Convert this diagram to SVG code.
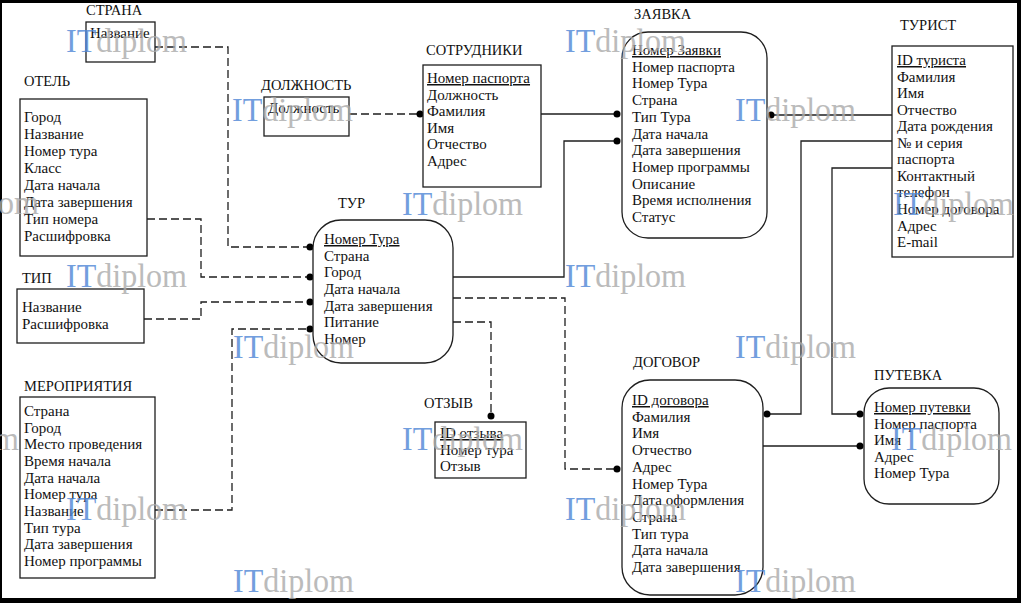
<svg xmlns="http://www.w3.org/2000/svg" width="1021" height="603" viewBox="0 0 1021 603">
<style>
.box{fill:#fff;stroke:#1e1e1e;stroke-width:1.3}
.t{font-family:"Liberation Serif","Times New Roman",serif;font-size:15px;fill:#111}
.lbl{font-family:"Liberation Serif","Times New Roman",serif;font-size:14.5px;fill:#111}
.u{text-decoration:underline}
.c{fill:none;stroke:#1e1e1e;stroke-width:1.3}
.d{stroke-dasharray:8 4}
.dot{fill:#000}
.wm{font-family:"Liberation Serif","Times New Roman",serif;font-size:34px;opacity:0.8}
.wi{fill:#4f87d6}
.wd{fill:#ababab}
</style>
<rect x="0" y="0" width="1021" height="603" fill="#000"/>
<rect x="2" y="3" width="1015" height="595" fill="#fff"/>

<g id="connectors">
  <polyline class="c d" points="155,47 228,47 228,247 310,247"/>
  <polyline class="c d" points="349,114 420,114"/>
  <polyline class="c d" points="147,219 201,219 201,277 310,277"/>
  <polyline class="c d" points="144,319 201,319 201,302 310,302"/>
  <polyline class="c d" points="155,510 232,510 232,329 310,329"/>
  <polyline class="c" points="541,114 617,114"/>
  <polyline class="c" points="453,277 564,277 564,141 617,141"/>
  <polyline class="c" points="892,115 771,115"/>
  <polyline class="c" points="892,141 801,141 801,414 767,414"/>
  <polyline class="c" points="892,168 832,168 832,414 860,414"/>
  <polyline class="c" points="763,446 860,446"/>
  <polyline class="c d" points="453,298 565,298 565,469 617,469"/>
  <polyline class="c d" points="453,322 491,322 491,416"/>
  <circle class="dot" cx="310" cy="247" r="3.5"/>
  <circle class="dot" cx="420" cy="114" r="3.5"/>
  <circle class="dot" cx="310" cy="277" r="3.5"/>
  <circle class="dot" cx="310" cy="302" r="3.5"/>
  <circle class="dot" cx="310" cy="329" r="3.5"/>
  <circle class="dot" cx="617" cy="114" r="3.5"/>
  <circle class="dot" cx="617" cy="141" r="3.5"/>
  <circle class="dot" cx="771" cy="115" r="3.5"/>
  <circle class="dot" cx="767" cy="414" r="3.5"/>
  <circle class="dot" cx="860" cy="414" r="3.5"/>
  <circle class="dot" cx="860" cy="446" r="3.5"/>
  <circle class="dot" cx="617" cy="469" r="3.5"/>
  <circle class="dot" cx="491" cy="416" r="3.5"/>
</g>

<g id="strana">
  <text class="lbl" x="86" y="15">СТРАНА</text>
  <rect class="box" x="86" y="22" width="69" height="40"/>
  <text class="t" x="90" y="38">Название</text>
</g>

<g id="otel">
  <text class="lbl" x="24" y="86">ОТЕЛЬ</text>
  <rect class="box" x="20" y="99" width="127" height="157"/>
  <text class="t">
    <tspan x="24" y="122">Город</tspan>
    <tspan x="24" y="139">Название</tspan>
    <tspan x="24" y="156">Номер тура</tspan>
    <tspan x="24" y="173">Класс</tspan>
    <tspan x="24" y="190">Дата начала</tspan>
    <tspan x="24" y="207">Дата завершения</tspan>
    <tspan x="24" y="224">Тип номера</tspan>
    <tspan x="24" y="241">Расшифровка</tspan>
  </text>
</g>

<g id="dolzhnost">
  <text class="lbl" x="261" y="90">ДОЛЖНОСТЬ</text>
  <rect class="box" x="264" y="97" width="85" height="39"/>
  <text class="t" x="268" y="113">Должность</text>
</g>

<g id="sotrudniki">
  <text class="lbl" x="426" y="55">СОТРУДНИКИ</text>
  <rect class="box" x="423" y="65" width="118" height="122"/>
  <text class="t">
    <tspan class="u" x="427" y="83">Номер паспорта</tspan>
    <tspan x="427" y="99.6">Должность</tspan>
    <tspan x="427" y="116.2">Фамилия</tspan>
    <tspan x="427" y="132.8">Имя</tspan>
    <tspan x="427" y="149.4">Отчество</tspan>
    <tspan x="427" y="166">Адрес</tspan>
  </text>
</g>

<g id="zayavka">
  <text class="lbl" x="634" y="19">ЗАЯВКА</text>
  <rect class="box" x="622" y="32" width="145" height="206" rx="26"/>
  <text class="t">
    <tspan class="u" x="632" y="55">Номер Заявки</tspan>
    <tspan x="632" y="71.7">Номер паспорта</tspan>
    <tspan x="632" y="88.4">Номер Тура</tspan>
    <tspan x="632" y="105.1">Страна</tspan>
    <tspan x="632" y="121.8">Тип Тура</tspan>
    <tspan x="632" y="138.5">Дата начала</tspan>
    <tspan x="632" y="155.2">Дата завершения</tspan>
    <tspan x="632" y="171.9">Номер программы</tspan>
    <tspan x="632" y="188.6">Описание</tspan>
    <tspan x="632" y="205.3">Время исполнения</tspan>
    <tspan x="632" y="222">Статус</tspan>
  </text>
</g>

<g id="turist">
  <text class="lbl" x="900" y="30">ТУРИСТ</text>
  <rect class="box" x="892" y="46" width="121" height="211"/>
  <text class="t">
    <tspan class="u" x="897" y="65">ID туриста</tspan>
    <tspan x="897" y="81.5">Фамилия</tspan>
    <tspan x="897" y="98.1">Имя</tspan>
    <tspan x="897" y="114.6">Отчество</tspan>
    <tspan x="897" y="131.2">Дата рождения</tspan>
    <tspan x="897" y="147.7">№ и серия</tspan>
    <tspan x="897" y="164.3">паспорта</tspan>
    <tspan x="897" y="180.8">Контактный</tspan>
    <tspan x="897" y="197.4">телефон</tspan>
    <tspan x="897" y="213.9">Номер договора</tspan>
    <tspan x="897" y="230.5">Адрес</tspan>
    <tspan x="897" y="247">E-mail</tspan>
  </text>
</g>

<g id="tur">
  <text class="lbl" x="338" y="208">ТУР</text>
  <rect class="box" x="313" y="220" width="140" height="143" rx="28"/>
  <text class="t">
    <tspan class="u" x="324" y="244">Номер Тура</tspan>
    <tspan x="324" y="260.7">Страна</tspan>
    <tspan x="324" y="277.3">Город</tspan>
    <tspan x="324" y="294">Дата начала</tspan>
    <tspan x="324" y="310.7">Дата завершения</tspan>
    <tspan x="324" y="327.3">Питание</tspan>
    <tspan x="324" y="344">Номер</tspan>
  </text>
</g>

<g id="tip">
  <text class="lbl" x="22" y="283">ТИП</text>
  <rect class="box" x="17" y="289" width="127" height="54"/>
  <text class="t">
    <tspan x="22" y="312">Название</tspan>
    <tspan x="22" y="329">Расшифровка</tspan>
  </text>
</g>

<g id="meropriyatiya">
  <text class="lbl" x="24" y="391">МЕРОПРИЯТИЯ</text>
  <rect class="box" x="20" y="397" width="135" height="181"/>
  <text class="t">
    <tspan x="24" y="416">Страна</tspan>
    <tspan x="24" y="432.7">Город</tspan>
    <tspan x="24" y="449.3">Место проведения</tspan>
    <tspan x="24" y="466">Время начала</tspan>
    <tspan x="24" y="482.7">Дата начала</tspan>
    <tspan x="24" y="499.3">Номер тура</tspan>
    <tspan x="24" y="516">Название</tspan>
    <tspan x="24" y="532.7">Тип тура</tspan>
    <tspan x="24" y="549.3">Дата завершения</tspan>
    <tspan x="24" y="566">Номер программы</tspan>
  </text>
</g>

<g id="otzyv">
  <text class="lbl" x="424" y="408">ОТЗЫВ</text>
  <rect class="box" x="435" y="422" width="91" height="56"/>
  <text class="t">
    <tspan class="u" x="440" y="438">ID отзыва</tspan>
    <tspan x="440" y="454.5">Номер тура</tspan>
    <tspan x="440" y="471">Отзыв</tspan>
  </text>
</g>

<g id="dogovor">
  <text class="lbl" x="633" y="367">ДОГОВОР</text>
  <rect class="box" x="622" y="380" width="141" height="215" rx="28"/>
  <text class="t">
    <tspan class="u" x="632" y="405">ID договора</tspan>
    <tspan x="632" y="421.7">Фамилия</tspan>
    <tspan x="632" y="438.4">Имя</tspan>
    <tspan x="632" y="455.1">Отчество</tspan>
    <tspan x="632" y="471.8">Адрес</tspan>
    <tspan x="632" y="488.5">Номер Тура</tspan>
    <tspan x="632" y="505.2">Дата оформления</tspan>
    <tspan x="632" y="521.9">Страна</tspan>
    <tspan x="632" y="538.6">Тип тура</tspan>
    <tspan x="632" y="555.3">Дата начала</tspan>
    <tspan x="632" y="572">Дата завершения</tspan>
  </text>
</g>

<g id="putevka">
  <text class="lbl" x="874" y="380">ПУТЕВКА</text>
  <rect class="box" x="864" y="388" width="135" height="116" rx="25"/>
  <text class="t">
    <tspan class="u" x="874" y="412">Номер путевки</tspan>
    <tspan x="874" y="428.5">Номер паспорта</tspan>
    <tspan x="874" y="445">Имя</tspan>
    <tspan x="874" y="461.5">Адрес</tspan>
    <tspan x="874" y="478">Номер Тура</tspan>
  </text>
</g>

<g id="watermarks">
  <text class="wm" x="66" y="52" textLength="121" lengthAdjust="spacingAndGlyphs"><tspan class="wi">IT</tspan><tspan class="wd">diplom</tspan></text>
  <text class="wm" x="565" y="52" textLength="121" lengthAdjust="spacingAndGlyphs"><tspan class="wi">IT</tspan><tspan class="wd">diplom</tspan></text>
  <text class="wm" x="232" y="121" textLength="121" lengthAdjust="spacingAndGlyphs"><tspan class="wi">IT</tspan><tspan class="wd">diplom</tspan></text>
  <text class="wm" x="735" y="121" textLength="121" lengthAdjust="spacingAndGlyphs"><tspan class="wi">IT</tspan><tspan class="wd">diplom</tspan></text>
  <text class="wm" x="-82" y="214" textLength="121" lengthAdjust="spacingAndGlyphs"><tspan class="wi">IT</tspan><tspan class="wd">diplom</tspan></text>
  <text class="wm" x="402" y="215" textLength="121" lengthAdjust="spacingAndGlyphs"><tspan class="wi">IT</tspan><tspan class="wd">diplom</tspan></text>
  <text class="wm" x="893" y="215" textLength="121" lengthAdjust="spacingAndGlyphs"><tspan class="wi">IT</tspan><tspan class="wd">diplom</tspan></text>
  <text class="wm" x="66" y="287" textLength="121" lengthAdjust="spacingAndGlyphs"><tspan class="wi">IT</tspan><tspan class="wd">diplom</tspan></text>
  <text class="wm" x="565" y="287" textLength="121" lengthAdjust="spacingAndGlyphs"><tspan class="wi">IT</tspan><tspan class="wd">diplom</tspan></text>
  <text class="wm" x="233" y="358" textLength="121" lengthAdjust="spacingAndGlyphs"><tspan class="wi">IT</tspan><tspan class="wd">diplom</tspan></text>
  <text class="wm" x="735" y="358" textLength="121" lengthAdjust="spacingAndGlyphs"><tspan class="wi">IT</tspan><tspan class="wd">diplom</tspan></text>
  <text class="wm" x="-102" y="450" textLength="121" lengthAdjust="spacingAndGlyphs"><tspan class="wi">IT</tspan><tspan class="wd">diplom</tspan></text>
  <text class="wm" x="402" y="450" textLength="121" lengthAdjust="spacingAndGlyphs"><tspan class="wi">IT</tspan><tspan class="wd">diplom</tspan></text>
  <text class="wm" x="891" y="450" textLength="121" lengthAdjust="spacingAndGlyphs"><tspan class="wi">IT</tspan><tspan class="wd">diplom</tspan></text>
  <text class="wm" x="66" y="520" textLength="121" lengthAdjust="spacingAndGlyphs"><tspan class="wi">IT</tspan><tspan class="wd">diplom</tspan></text>
  <text class="wm" x="565" y="520" textLength="121" lengthAdjust="spacingAndGlyphs"><tspan class="wi">IT</tspan><tspan class="wd">diplom</tspan></text>
  <text class="wm" x="233" y="592" textLength="121" lengthAdjust="spacingAndGlyphs"><tspan class="wi">IT</tspan><tspan class="wd">diplom</tspan></text>
  <text class="wm" x="735" y="592" textLength="121" lengthAdjust="spacingAndGlyphs"><tspan class="wi">IT</tspan><tspan class="wd">diplom</tspan></text>
</g>
</svg>
